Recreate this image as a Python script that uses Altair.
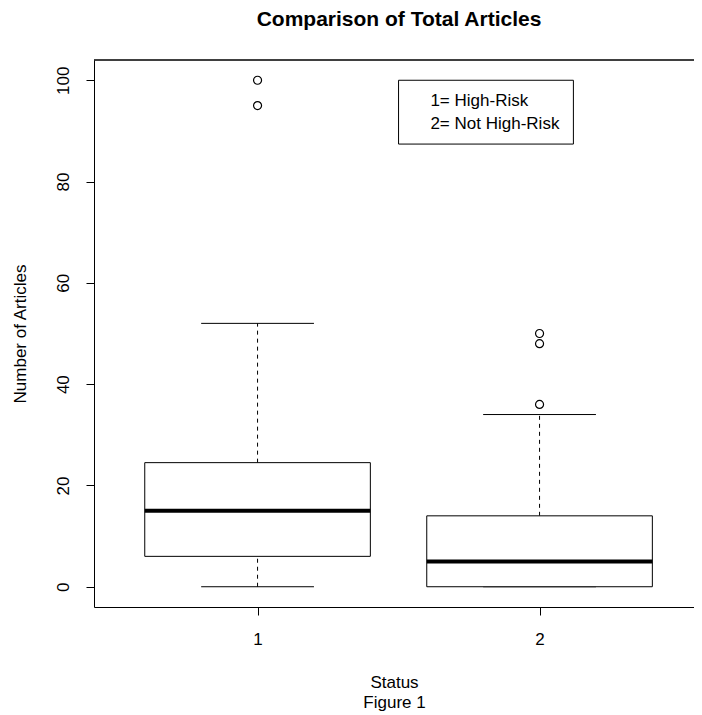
import altair as alt
import pandas as pd

# ---- data ----
status = [1, 2]
lower_whisker = [0, 0]
q1 = [6, 0]
median = [15, 5]
q3 = [24.5, 14]
upper_whisker = [52, 34]

outlier_status = [1, 1, 2, 2, 2]
outlier_values = [95, 100, 36, 48, 50]

legend_lines = ["1= High-Risk", "2= Not High-Risk"]
legend_text_y = [95.9, 91.4]
legend_box = {"x": [1.5], "x2": [2.12], "y": [100], "y2": [87.4]}
legend_text_x = 1.613

y_ticks = [0, 20, 40, 60, 80, 100]
x_ticks = [1, 2]

BOX_HALF = 0.4
CAP_HALF = 0.2
FONT = "Liberation Sans"
FS = 17

box_df = pd.DataFrame({
    "status": status, "low": lower_whisker, "q1": q1, "median": median,
    "q3": q3, "high": upper_whisker,
})
box_df["left"] = box_df["status"] - BOX_HALF
box_df["right"] = box_df["status"] + BOX_HALF
box_df["capl"] = box_df["status"] - CAP_HALF
box_df["capr"] = box_df["status"] + CAP_HALF

out_df = pd.DataFrame({"status": outlier_status, "value": outlier_values})
leg_df = pd.DataFrame(legend_box)
leg_txt = pd.DataFrame({"label": legend_lines, "y": legend_text_y,
                        "x": [legend_text_x] * len(legend_lines)})

xscale = alt.Scale(domain=[0.42, 2.5477], nice=False, zero=False)
yscale = alt.Scale(domain=[-4, 104], nice=False, zero=False)

X_TITLE = ["Status", "Figure 1"]
Y_TITLE = "Number of Articles"

x_axis = alt.Axis(values=x_ticks, format="d", title=X_TITLE,
                  grid=False, tickSize=8, labelPadding=16, labelFont=FONT,
                  labelFontSize=FS, labelColor="black", titleFont=FONT,
                  titleFontSize=FS, titleFontWeight="normal", titleColor="black",
                  titlePadding=27, titleLineHeight=20, domainColor="black",
                  tickColor="black", domainWidth=1, labelFlush=False)
y_axis = alt.Axis(values=y_ticks, title=Y_TITLE, grid=False,
                  tickSize=8, labelAngle=270, labelAlign="center",
                  labelBaseline="bottom", labelPadding=14, labelFont=FONT,
                  labelFontSize=FS, labelColor="black", titleFont=FONT,
                  titleFontSize=FS, titleFontWeight="normal", titleColor="black",
                  titlePadding=25, domainColor="black", tickColor="black",
                  labelFlush=False)


def X(field):
    return alt.X(field, type="quantitative", scale=xscale, axis=x_axis, title=X_TITLE)


def Y(field):
    return alt.Y(field, type="quantitative", scale=yscale, axis=y_axis, title=Y_TITLE)


base_box = alt.Chart(box_df)

whisker_up = base_box.mark_rule(color="black", strokeDash=[4, 4], strokeWidth=1).encode(
    x=X("status"), y=Y("q3"), y2="high:Q",
)
whisker_down = base_box.mark_rule(color="black", strokeDash=[4, 4], strokeWidth=1).encode(
    x=X("status"), y=Y("low"), y2="q1:Q",
)
cap_up = base_box.mark_rule(color="black", strokeWidth=1).encode(
    x=X("capl"), x2="capr:Q", y=Y("high"),
)
cap_down = base_box.mark_rule(color="black", strokeWidth=1).encode(
    x=X("capl"), x2="capr:Q", y=Y("low"),
)
box = base_box.mark_rect(fill="white", stroke="black", strokeWidth=1).encode(
    x=X("left"), x2="right:Q", y=Y("q1"), y2="q3:Q",
)
med = base_box.mark_rule(color="black", strokeWidth=4).encode(
    x=X("left"), x2="right:Q", y=Y("median"),
)
outl = alt.Chart(out_df).mark_point(shape="circle", filled=False, color="black",
                                    size=64, strokeWidth=1.2, opacity=1).encode(
    x=X("status"), y=Y("value"),
)
leg_rect = alt.Chart(leg_df).mark_rect(fill="white", stroke="black", strokeWidth=1).encode(
    x=X("x"), x2="x2:Q", y=Y("y"), y2="y2:Q",
)
leg_text = alt.Chart(leg_txt).mark_text(align="left", baseline="middle", font=FONT,
                                        fontSize=FS, color="black").encode(
    x=X("x"), y=Y("y"), text="label:N",
)
top_frame = alt.Chart(box_df).mark_rule(color="black", strokeWidth=1).encode(
    y=alt.value(0)
)

chart = alt.layer(
    whisker_up, whisker_down, cap_up, cap_down, box, med, outl,
    leg_rect, leg_text, top_frame,
).properties(
    width=600, height=547,
    title=alt.TitleParams("Comparison of Total Articles", font=FONT, fontSize=21,
                          fontWeight="bold", color="black", anchor="middle",
                          offset=30, dx=5),
    autosize=alt.AutoSizeParams(type="none"),
    padding={"left": 86, "top": 52, "right": 0, "bottom": 108},
).configure(background="white", view=alt.ViewConfig(stroke=None))

chart.save("out.html", embed_options={"renderer": "svg", "actions": False})
